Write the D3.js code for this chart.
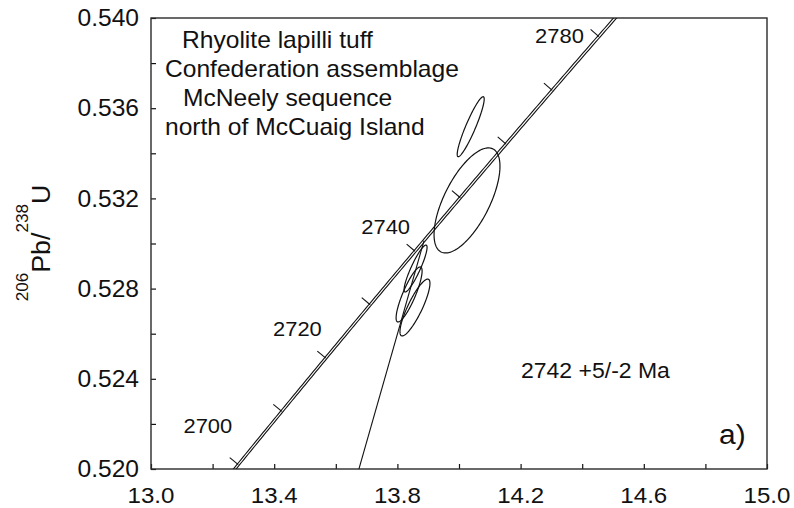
<!DOCTYPE html>
<html>
<head>
<meta charset="utf-8">
<script src="https://cdn.jsdelivr.net/npm/d3@7"></script>
<style>
  html, body { margin: 0; padding: 0; background: #fff; }
  svg { display: block; font-family: "Liberation Sans", Arial, Helvetica, sans-serif; }
</style>
</head>
<body>
<svg id="chart" width="794" height="508"></svg>
<script>
// U–Pb decay constants (per Ma) and relative half-width of the concordia band
const lambda238 = 1.55125e-4;
const lambda235 = 9.8485e-4;
const bandRelErr = 1.2e-4;

// Axis ticks and labels
const xTicks = [13.0, 13.2, 13.4, 13.6, 13.8, 14.0, 14.2, 14.4, 14.6, 14.8, 15.0];
const xTickLabels = [13.0, 13.4, 13.8, 14.2, 14.6, 15.0];
const yTicks = [0.520, 0.522, 0.524, 0.526, 0.528, 0.530, 0.532, 0.534, 0.536, 0.538, 0.540];
const yTickLabels = [0.520, 0.524, 0.528, 0.532, 0.536, 0.540];

// Concordia age marks (Ma)
const concordiaTickAges = [2700, 2710, 2720, 2730, 2740, 2750, 2760, 2770, 2780];
const concordiaLabelAges = [2700, 2720, 2740, 2780];

// Zircon analyses: 207Pb/235U, 206Pb/238U, 2-sigma half-widths, error correlation
const analysisPb207U235 = [14.038, 14.026, 13.859, 13.838, 13.857];
const analysisPb207U235Err = [0.0438, 0.107, 0.0373, 0.0422, 0.0487];
const analysisPb206U238 = [0.53518, 0.53191, 0.52889, 0.52774, 0.52716];
const analysisPb206U238Err = [0.00133, 0.00233, 0.00104, 0.00122, 0.00126];
const analysisRho = [0.92, 0.65, 0.90, 0.85, 0.85];

// Discordia: upper intercept age (Ma) and slope (d 206/238 per d 207/235)
const upperInterceptAge = 2742;
const discordiaSlope = 0.0479;

// Text
const annotationLines = ["Rhyolite lapilli tuff", "Confederation assemblage", "McNeely sequence", "north of McCuaig Island"];
const ageResult = "2742 +5/-2 Ma";
const panelLabel = "a)";

// ---------------------------------------------------------------------------
const svg = d3.select("#chart");
const plot = { left: 151, top: 18, right: 767, bottom: 469 };
const x = d3.scaleLinear().domain([13.0, 15.0]).range([plot.left, plot.right]);
const y = d3.scaleLinear().domain([0.520, 0.540]).range([plot.bottom, plot.top]);
const INK = "#111";
const STRETCH = 1.07;

function addText(parent, px, py, str, size, anchor, rotate) {
  const t = parent.append("text")
    .attr("transform", `translate(${px},${py})` + (rotate ? ` rotate(${rotate})` : "") + ` scale(${STRETCH},1)`)
    .attr("font-size", size)
    .attr("text-anchor", anchor || "start")
    .attr("fill", INK);
  if (str !== null) t.text(str);
  return t;
}

svg.append("defs").append("clipPath").attr("id", "plotClip")
  .append("rect")
  .attr("x", plot.left).attr("y", plot.top)
  .attr("width", plot.right - plot.left).attr("height", plot.bottom - plot.top);

// Concordia coordinates for age t (Ma)
const conX = (t, l235 = lambda235) => Math.exp(l235 * t) - 1;
const conY = t => Math.exp(lambda238 * t) - 1;
const conPx = t => [x(conX(t)), y(conY(t))];

// Frame and inward ticks
svg.append("g")
  .attr("transform", `translate(0,${plot.bottom})`)
  .call(d3.axisBottom(x).tickValues(xTicks).tickSizeInner(-5).tickSizeOuter(0).tickFormat(""))
  .call(g => g.select(".domain").remove())
  .call(g => g.selectAll("line").attr("stroke", INK).attr("stroke-width", 1.2));

svg.append("g")
  .attr("transform", `translate(${plot.left},0)`)
  .call(d3.axisLeft(y).tickValues(yTicks).tickSizeInner(-5).tickSizeOuter(0).tickFormat(""))
  .call(g => g.select(".domain").remove())
  .call(g => g.selectAll("line").attr("stroke", INK).attr("stroke-width", 1.2));

svg.append("rect")
  .attr("x", plot.left).attr("y", plot.top)
  .attr("width", plot.right - plot.left).attr("height", plot.bottom - plot.top)
  .attr("fill", "none").attr("stroke", "#2a2a2a").attr("stroke-width", 1.4);

// Tick labels
const xFmt = d3.format(".1f"), yFmt = d3.format(".3f");
xTickLabels.forEach(v => addText(svg, x(v), 503, xFmt(v), 22.5, "middle"));
yTickLabels.forEach(v => addText(svg, 139, y(v) + 8.2, yFmt(v), 23, "end"));

// Y-axis title: 206Pb/238U
const yTitle = addText(svg, 50, 243, null, 25, "middle", -90);
yTitle.append("tspan").attr("font-size", 16).attr("dy", -22).text("206");
yTitle.append("tspan").attr("dy", 22).text("Pb/");
yTitle.append("tspan").attr("font-size", 16).attr("dy", -22).text("238");
yTitle.append("tspan").attr("dy", 22).text("U");

// Plot contents (clipped)
const content = svg.append("g").attr("clip-path", "url(#plotClip)");

// Concordia band: two curves bounding the decay-constant uncertainty
const ages = d3.range(2680, 2800.01, 0.5);
[1 - bandRelErr, 1 + bandRelErr].forEach(f => {
  content.append("path")
    .datum(ages)
    .attr("fill", "none").attr("stroke", INK).attr("stroke-width", 1.1)
    .attr("d", d3.line().x(t => x(conX(t, lambda235 * f))).y(t => y(conY(t)))(ages));
});

// Age marks on the concordia, drawn perpendicular on the upper-left side
concordiaTickAges.forEach(t => {
  const [px, py] = conPx(t);
  const [ax, ay] = conPx(t - 0.5), [bx, by] = conPx(t + 0.5);
  const dx = bx - ax, dy = by - ay, len = Math.hypot(dx, dy);
  const nx = dy / len, ny = -dx / len;
  content.append("line")
    .attr("x1", px).attr("y1", py)
    .attr("x2", px + 11 * nx).attr("y2", py + 11 * ny)
    .attr("stroke", INK).attr("stroke-width", 1.1);
});

// Age labels (offset from the concordia point: right edge, baseline)
const ageLabelOffset = { 2700: [-6, -32], 2720: [-4, -22], 2740: [-5, -17], 2780: [-15, 6] };
concordiaLabelAges.forEach(t => {
  const [px, py] = conPx(t);
  const [ox, oy] = ageLabelOffset[t];
  addText(svg, px + ox, py + oy, String(t), 20.5, "end");
});

// Discordia from the upper intercept down to the lower plot edge
const uiX = conX(upperInterceptAge), uiY = conY(upperInterceptAge);
const lowY = 0.515;
content.append("line")
  .attr("x1", x(uiX)).attr("y1", y(uiY))
  .attr("x2", x(uiX + (lowY - uiY) / discordiaSlope)).attr("y2", y(lowY))
  .attr("stroke", INK).attr("stroke-width", 1.1);

// Error ellipses
const theta = d3.range(0, 2 * Math.PI + 0.001, Math.PI / 90);
analysisPb207U235.forEach((cx, i) => {
  const sx = analysisPb207U235Err[i], cy = analysisPb206U238[i], sy = analysisPb206U238Err[i], r = analysisRho[i];
  const pts = theta.map(a => [
    cx + sx * Math.cos(a),
    cy + sy * (r * Math.cos(a) + Math.sqrt(1 - r * r) * Math.sin(a))
  ]);
  content.append("path")
    .attr("fill", "none").attr("stroke", INK).attr("stroke-width", 1.2)
    .attr("d", d3.line().x(d => x(d[0])).y(d => y(d[1])).curve(d3.curveLinearClosed)(pts));
});

// Sample annotation
const annotationPos = [[182, 48.3], [165, 77.3], [183, 106], [165, 135]];
annotationLines.forEach((s, i) => addText(svg, annotationPos[i][0], annotationPos[i][1], s, 23, "start"));

addText(svg, 521, 378, ageResult, 21.5, "start");
addText(svg, 719, 444, panelLabel, 28, "start");
</script>
</body>
</html>
